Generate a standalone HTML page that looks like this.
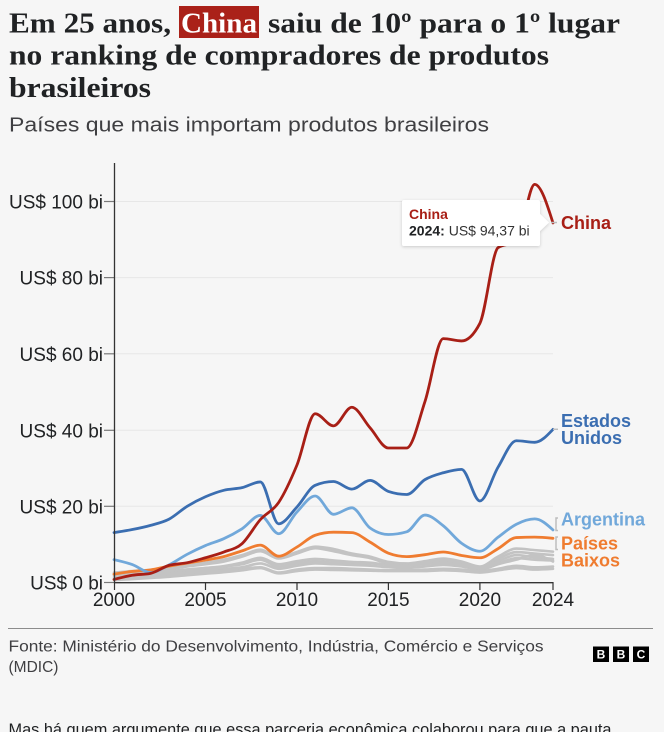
<!DOCTYPE html>
<html><head><meta charset="utf-8"><style>
html,body{margin:0;padding:0;background:#f6f6f6;width:664px;height:732px;overflow:hidden}
svg{display:block}
text{font-family:"Liberation Sans",sans-serif}
.serif text,text.serif{font-family:"Liberation Serif",serif}
</style></head><body>
<svg id="s" width="664" height="732" viewBox="0 0 664 732" xmlns="http://www.w3.org/2000/svg">
<defs><filter id="sh" x="-20%" y="-30%" width="140%" height="160%"><feDropShadow dx="0" dy="1" stdDeviation="1.5" flood-color="#000" flood-opacity="0.18"/></filter></defs>
<rect x="0" y="0" width="664" height="732" fill="#f6f6f6"/>
<!-- Title -->
<g class="serif" font-weight="bold" font-size="29" fill="#202224">
<text class="serif" x="9" y="32.5" textLength="162" lengthAdjust="spacingAndGlyphs">Em 25 anos,</text>
<rect x="179" y="6" width="80" height="32" fill="#aa2119"/>
<text class="serif" x="181" y="32.5" fill="#ffffff" textLength="76" lengthAdjust="spacingAndGlyphs">China</text>
<text class="serif" x="268" y="32.5" textLength="352" lengthAdjust="spacingAndGlyphs">saiu de 10º para o 1º lugar</text>
<text class="serif" x="9" y="64.5" textLength="540" lengthAdjust="spacingAndGlyphs">no ranking de compradores de produtos</text>
<text class="serif" x="9" y="97" textLength="142" lengthAdjust="spacingAndGlyphs">brasileiros</text>
</g>
<text x="9" y="131.7" font-size="20" fill="#3f3f42" textLength="480" lengthAdjust="spacingAndGlyphs">Países que mais importam produtos brasileiros</text>

<!-- grid -->
<g stroke="#e7e7e7" stroke-width="1">
<line x1="114" x2="553" y1="506.3" y2="506.3"/>
<line x1="114" x2="553" y1="430.3" y2="430.3"/>
<line x1="114" x2="553" y1="353.8" y2="353.8"/>
<line x1="114" x2="553" y1="277.6" y2="277.6"/>
<line x1="114" x2="553" y1="201.5" y2="201.5"/>
</g>
<!-- y ticks -->
<g stroke="#7a7a7a" stroke-width="1.2">
<line x1="104" x2="114" y1="582.5" y2="582.5"/>
<line x1="104" x2="114" y1="506.3" y2="506.3"/>
<line x1="104" x2="114" y1="430.3" y2="430.3"/>
<line x1="104" x2="114" y1="353.8" y2="353.8"/>
<line x1="104" x2="114" y1="277.6" y2="277.6"/>
<line x1="104" x2="114" y1="201.5" y2="201.5"/>
</g>
<g font-size="19" fill="#202224" text-anchor="end">
<text x="103" y="589.5">US$ 0 bi</text>
<text x="103" y="513.3">US$ 20 bi</text>
<text x="103" y="437.3">US$ 40 bi</text>
<text x="103" y="360.8">US$ 60 bi</text>
<text x="103" y="284.6">US$ 80 bi</text>
<text x="103" y="208.5">US$ 100 bi</text>
</g>

<g id="series" fill="none" stroke-linejoin="round" stroke-linecap="round"></g>

<!-- axes -->
<line x1="114.5" x2="114.5" y1="163" y2="583" stroke="#333" stroke-width="1.3"/>
<line x1="114" x2="553.5" y1="582.7" y2="582.7" stroke="#333" stroke-width="1.3"/>
<g stroke="#333" stroke-width="1.2">
<line x1="114.5" x2="114.5" y1="582" y2="590"/>
<line x1="205.5" x2="205.5" y1="582" y2="590"/>
<line x1="297" x2="297" y1="582" y2="590"/>
<line x1="388.4" x2="388.4" y1="582" y2="590"/>
<line x1="479.9" x2="479.9" y1="582" y2="590"/>
<line x1="553" x2="553" y1="582" y2="590"/>
</g>
<g font-size="19" fill="#202224" text-anchor="middle">
<text x="114" y="606">2000</text>
<text x="205.5" y="606">2005</text>
<text x="297" y="606">2010</text>
<text x="388.4" y="606">2015</text>
<text x="479.9" y="606">2020</text>
<text x="553" y="606">2024</text>
</g>

<!-- connectors -->
<g stroke="#bdbdbd" stroke-width="1.5" fill="none">
<line x1="551" x2="557" y1="222.5" y2="222.5"/>
<line x1="553" x2="558" y1="429.3" y2="429.3"/>
<polyline points="558,518 556,518 556,530.5 558,530.5"/>
<polyline points="558,537 556,537 556,549.5 558,549.5"/>
</g>

<!-- labels -->
<g font-weight="bold" font-size="18">
<text x="561" y="229" fill="#a81f16">China</text>
<text x="561" y="427" fill="#3b6eb1">Estados</text>
<text x="561" y="444" fill="#3b6eb1">Unidos</text>
<text x="561" y="525.5" fill="#71a8da">Argentina</text>
<text x="561" y="549.5" fill="#ef7c30">Países</text>
<text x="561" y="566.5" fill="#ef7c30">Baixos</text>
</g>

<!-- tooltip -->
<g filter="url(#sh)">
<rect x="402" y="200" width="138" height="46" rx="2" fill="#ffffff"/>
<polygon points="539,213 549,222.5 539,232" fill="#ffffff"/>
</g>
<text x="409" y="219" font-size="14" font-weight="bold" fill="#a81f16">China</text>
<text x="409" y="235.7" font-size="14" fill="#333"><tspan font-weight="bold" fill="#202224">2024:</tspan> US$ 94,37 bi</text>

<!-- footer -->
<line x1="8" x2="653" y1="628.5" y2="628.5" stroke="#8c8c8c" stroke-width="1"/>
<text x="8.5" y="651.7" font-size="15.5" fill="#3f3f42" textLength="535" lengthAdjust="spacingAndGlyphs">Fonte: Ministério do Desenvolvimento, Indústria, Comércio e Serviços</text>
<text x="8.5" y="672" font-size="15.5" fill="#3f3f42">(MDIC)</text>
<g>
<rect x="593" y="646.5" width="16" height="15.5" fill="#000"/>
<rect x="613" y="646.5" width="16" height="15.5" fill="#000"/>
<rect x="633" y="646.5" width="16" height="15.5" fill="#000"/>
<g font-size="12" font-weight="bold" fill="#fff" text-anchor="middle">
<text x="601" y="658.5">B</text>
<text x="621" y="658.5">B</text>
<text x="641" y="658.5">C</text>
</g>
</g>
<text x="8.5" y="735" font-size="17" fill="#202224" textLength="603" lengthAdjust="spacingAndGlyphs">Mas há quem argumente que essa parceria econômica colaborou para que a pauta</text>
</svg>
<script>
(function(){
var X=function(i){return 114+i*439/24;};
var Y=function(v){return 582.5-v*3.81;};
function sign(x){return x<0?-1:1;}
function path(vals){
  var n=vals.length,xs=[],ys=[],t=[],i;
  for(i=0;i<n;i++){xs.push(X(i));ys.push(Y(vals[i]));}
  var s=[];for(i=0;i<n-1;i++){s.push((ys[i+1]-ys[i])/(xs[i+1]-xs[i]));}
  for(i=1;i<n-1;i++){
    var h0=xs[i]-xs[i-1],h1=xs[i+1]-xs[i],s0=s[i-1],s1=s[i];
    var p=(s0*h1+s1*h0)/(h0+h1);
    t[i]=(sign(s0)+sign(s1))*Math.min(Math.abs(s0),Math.abs(s1),0.5*Math.abs(p))||0;
  }
  t[0]=(3*s[0]-t[1])/2;
  t[n-1]=(3*s[n-2]-t[n-2])/2;
  var d="M"+xs[0].toFixed(2)+","+ys[0].toFixed(2);
  for(i=0;i<n-1;i++){
    var dx=(xs[i+1]-xs[i])/3;
    d+="C"+(xs[i]+dx).toFixed(2)+","+(ys[i]+dx*t[i]).toFixed(2)+","+(xs[i+1]-dx).toFixed(2)+","+(ys[i+1]-dx*t[i+1]).toFixed(2)+","+xs[i+1].toFixed(2)+","+ys[i+1].toFixed(2);
  }
  return d;
}
var grays=[
[2.6,3.0,3.3,3.8,4.5,5.2,6.0,7.2,8.6,6.6,8.0,9.4,8.8,7.6,6.8,5.4,5.0,5.6,6.3,5.5,4.2,6.8,8.9,8.5,8.1],
[2.2,2.6,3.0,3.5,4.2,4.8,5.5,6.8,8.2,6.3,7.6,9.0,8.2,7.2,6.4,5.0,4.6,5.2,5.8,5.0,3.9,6.2,8.0,7.6,7.2],
[1.8,2.1,2.4,2.9,3.4,3.8,4.2,4.8,6.0,4.2,5.0,5.6,5.2,5.0,5.0,4.6,4.4,5.0,6.0,5.2,4.0,5.6,7.2,6.6,6.2],
[1.4,1.7,2.0,2.4,2.8,3.2,3.6,4.0,5.0,3.6,4.4,5.0,4.8,4.6,4.4,4.0,3.8,4.2,4.6,4.2,3.4,4.8,6.0,7.2,5.5],
[1.0,1.3,1.6,2.0,2.4,2.8,3.2,3.6,4.0,2.6,3.4,3.8,3.8,3.6,3.4,3.2,3.2,3.4,3.6,3.4,3.0,3.6,4.4,4.0,4.2],
[0.6,0.9,1.2,1.5,1.9,2.3,2.7,3.2,3.8,2.4,3.0,3.4,3.3,3.2,3.1,3.0,3.0,3.0,3.2,3.0,2.6,3.2,3.8,3.4,3.6],
[2.0,2.4,2.7,3.0,3.4,3.8,4.3,5.2,6.5,4.8,5.6,6.2,5.8,5.4,5.2,4.6,4.4,4.8,5.2,4.6,3.8,5.0,6.4,6.0,5.8]
];
var series=[];
grays.forEach(function(g){series.push([g,"#c3c3c3",2.6]);});
series.push([[2.2,2.9,3.3,4.3,5.1,5.9,6.8,8.3,9.8,6.9,9.3,12.4,13.2,13.1,10.6,7.7,6.8,7.3,8.0,7.1,6.5,8.9,11.8,11.9,11.6],"#ef7c30",2.8]);
series.push([[6.0,4.7,2.6,4.6,7.4,9.7,11.5,14.1,17.6,12.8,18.5,22.7,17.9,19.6,14.3,12.6,13.3,17.7,14.9,10.3,8.2,11.9,15.3,16.7,13.8],"#71a8da",2.8]);
series.push([[13.1,13.9,15.0,16.6,20.0,22.5,24.2,24.9,26.4,15.4,19.8,25.5,26.5,24.5,26.8,23.9,23.1,27.0,28.8,29.7,21.4,30.3,37.2,36.8,40.2],"#3b6eb1",2.8]);
series.push([[0.8,1.9,2.4,4.5,5.2,6.5,8.0,10.2,16.5,21.0,30.8,44.3,41.1,46.0,40.6,35.3,35.3,47.5,64.0,63.4,68.0,87.9,89.5,104.5,94.37],"#a81f16",2.8]);
var g=document.getElementById("series"),ns="http://www.w3.org/2000/svg";
series.forEach(function(sr){
  var p=document.createElementNS(ns,"path");
  p.setAttribute("d",path(sr[0]));
  p.setAttribute("stroke",sr[1]);
  p.setAttribute("stroke-width",sr[2]);
  g.appendChild(p);
});
})();
</script>
</body></html>
